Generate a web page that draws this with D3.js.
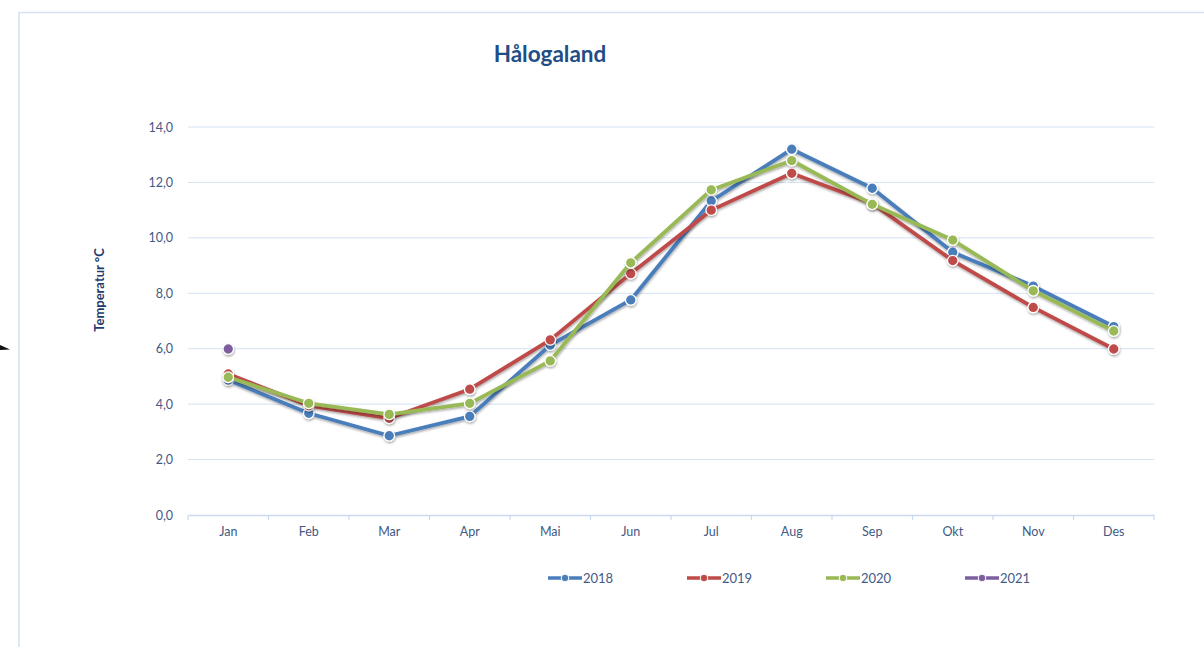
<!DOCTYPE html>
<html>
<head>
<meta charset="utf-8">
<script src="https://cdn.jsdelivr.net/npm/d3@7"></script>
<style>
  body { margin: 0; background: #fff; }
  svg { display: block; font-family: Lato, "Open Sans", sans-serif; }
</style>
</head>
<body>
<div id="canvas"></div>
<script>
//chart data
var months = ['Jan', 'Feb', 'Mar', 'Apr', 'Mai', 'Jun', 'Jul', 'Aug', 'Sep', 'Okt', 'Nov', 'Des'];
var years = ['2018', '2019', '2020', '2021'];
var temp2018 = [4.87, 3.67, 2.86, 3.56, 6.13, 7.76, 11.33, 13.2, 11.79, 9.48, 8.26, 6.8];
var temp2019 = [5.09, 3.95, 3.49, 4.54, 6.32, 8.71, 11.0, 12.33, 11.24, 9.18, 7.49, 5.99];
var temp2020 = [4.97, 4.03, 3.63, 4.03, 5.56, 9.1, 11.73, 12.79, 11.21, 9.92, 8.09, 6.64];
var temp2021 = [5.99];
var yTicks = [0, 2, 4, 6, 8, 10, 12, 14];
var colors = ['#4A7EBB', '#BE4B48', '#98B954', '#7D5FA0'];

var seriesList = [temp2018, temp2019, temp2020, temp2021];

//canvas
var cv = {
  'width': 1204,
  'height': 647,
  'left': 188,
  'right': 1154,
  'top': 127,
  'bottom': 515
};

var svg = d3.select('#canvas').append('svg')
  .attr('width', cv.width)
  .attr('height', cv.height);

//shadow filter
var defs = svg.append('defs');
var f = defs.append('filter').attr('id', 'shadow')
  .attr('x', '-20%').attr('y', '-20%').attr('width', '140%').attr('height', '160%');
f.append('feDropShadow')
  .attr('dx', 0.5).attr('dy', 1.5)
  .attr('stdDeviation', 1.2)
  .attr('flood-color', '#000')
  .attr('flood-opacity', 0.35);

//chart frame
svg.append('path')
  .attr('d', 'M19,' + cv.height + ' L19,12.5 L' + cv.width + ',12.5')
  .attr('fill', 'none')
  .attr('stroke', '#D5E2F2')
  .attr('stroke-width', 1.5);

//little cursor mark on the left edge
svg.append('path')
  .attr('d', 'M0,345 L10,349.5 L0,350 Z')
  .attr('fill', '#111');

//scales
var x = d3.scaleBand()
  .domain(months)
  .range([cv.left, cv.right]);

var y = d3.scaleLinear()
  .domain([0, 14])
  .range([cv.bottom, cv.top]);

//gridlines
svg.selectAll('.grid')
  .data(yTicks.filter(d => d > 0))
  .enter().append('line')
  .attr('class', 'grid')
  .attr('x1', cv.left)
  .attr('x2', cv.right)
  .attr('y1', d => y(d))
  .attr('y2', d => y(d))
  .attr('stroke', '#D3E2F4')
  .attr('stroke-width', 1);

//y axis labels
var yAxis = svg.append('g')
  .attr('transform', 'translate(' + (cv.left - 12) + ',0)')
  .call(d3.axisLeft(y).tickValues(yTicks).tickSize(0).tickFormat(d => d.toFixed(1).replace('.', ',')));
yAxis.select('.domain').remove();
yAxis.selectAll('text')
  .attr('fill', '#3F5A85')
  .attr('font-size', 12.5)
  .attr('font-family', 'Lato, "Open Sans", sans-serif');

//x axis
var xAxis = svg.append('g')
  .attr('transform', 'translate(0,' + cv.bottom + ')')
  .call(d3.axisBottom(x).tickSize(0).tickPadding(12));
xAxis.select('.domain').attr('stroke', '#C9DAEF').attr('stroke-width', 1.5);
xAxis.selectAll('text')
  .attr('fill', '#3F5A85')
  .attr('font-size', 12.5)
  .attr('font-family', 'Lato, "Open Sans", sans-serif');

//tick marks at band edges
var edges = months.map(m => x(m)).concat([cv.right]);
svg.selectAll('.xtick')
  .data(edges)
  .enter().append('line')
  .attr('class', 'xtick')
  .attr('x1', d => d)
  .attr('x2', d => d)
  .attr('y1', cv.bottom)
  .attr('y2', cv.bottom + 5)
  .attr('stroke', '#C9DAEF')
  .attr('stroke-width', 1.2);

//title
svg.append('text')
  .attr('x', 550)
  .attr('y', 62)
  .attr('text-anchor', 'middle')
  .attr('font-size', 22.5)
  .attr('font-weight', 'bold')
  .attr('fill', '#1F4E86')
  .text('Hålogaland');

//y axis title
svg.append('text')
  .attr('transform', 'translate(104,290) rotate(-90)')
  .attr('text-anchor', 'middle')
  .attr('font-size', 13)
  .attr('font-weight', 'bold')
  .attr('fill', '#1F3C6E')
  .text('Temperatur °C');

//lines
var line = d3.line()
  .x((d, i) => x(months[i]) + x.bandwidth() / 2)
  .y(d => y(d));

seriesList.forEach(function(vals, s) {
  var g = svg.append('g').attr('class', 'series').attr('filter', 'url(#shadow)');
  if (vals.length > 1) {
    g.append('path')
      .datum(vals)
      .attr('d', line)
      .attr('fill', 'none')
      .attr('stroke', colors[s])
      .attr('stroke-width', 3.8)
      .attr('stroke-linejoin', 'round');
  }
  g.selectAll('.dot')
    .data(vals)
    .enter().append('circle')
    .attr('class', 'dot')
    .attr('cx', (d, i) => x(months[i]) + x.bandwidth() / 2)
    .attr('cy', d => y(d))
    .attr('r', 5.3)
    .attr('fill', colors[s])
    .attr('stroke', '#fff')
    .attr('stroke-width', 1.3);
});

//legend
var legendX = [548, 687, 826, 965];
var legend = svg.selectAll('.legend')
  .data(years)
  .enter().append('g')
  .attr('class', 'legend')
  .attr('transform', (d, i) => 'translate(' + legendX[i] + ',578)');

legend.append('line')
  .attr('x1', 0).attr('x2', 34)
  .attr('y1', 0).attr('y2', 0)
  .attr('stroke', (d, i) => colors[i])
  .attr('stroke-width', 3.5);
legend.append('circle')
  .attr('cx', 17).attr('cy', 0).attr('r', 3.8)
  .attr('fill', (d, i) => colors[i])
  .attr('stroke', '#fff')
  .attr('stroke-width', 1);
legend.append('text')
  .attr('x', 35)
  .attr('y', 5)
  .attr('font-size', 13)
  .attr('fill', '#3F5A85')
  .text(d => d);
</script>
</body>
</html>
